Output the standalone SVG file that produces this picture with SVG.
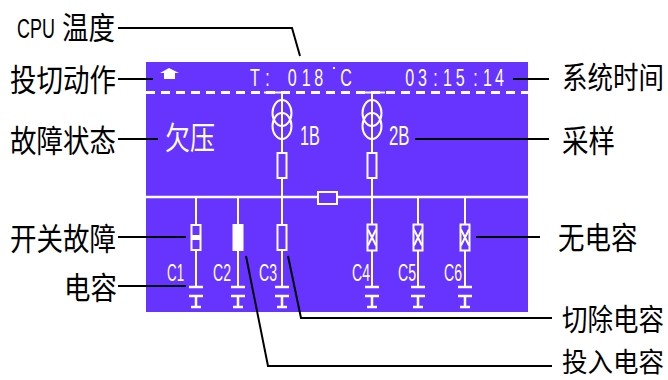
<svg xmlns="http://www.w3.org/2000/svg" width="668" height="380" viewBox="0 0 668 380">
<style>
.w{stroke:#fff;stroke-width:2;fill:none}
.p{stroke:#fff;stroke-width:2.500;fill:none}
.box{stroke:#fff;stroke-width:2;fill:#6633ff}
.wf{fill:#fff;stroke:none}
.b{stroke:#000;stroke-width:2;fill:none}
.lb{font-family:"Noto Sans CJK SC","Liberation Sans",sans-serif;fill:#000}
.t{font-family:"Liberation Sans",sans-serif;fill:#fff}
.c{font-size:23.500px}
</style>
<defs>
<g id="cap"><path class="w" d="M0 0V90"/><path class="p" d="M-7 90H7M-7 99H7M0 99V110M-5 110H5"/></g>
<g id="x"><rect class="box" x="-4.500" y="-13" width="9" height="26"/><path class="w" d="M-4-8 4 8M4-8-4 8"/></g>
</defs>
<rect id="panel" x="146" y="62" width="382" height="250" fill="#6633ff"/>
<g id="screen-top">
<path class="wf" d="M160 73 169 68 179 73H175V79H164V73Z"/>
<text class="t" font-size="23" transform="translate(0 86) scale(.7 1)" x="357 379 411 431 449">T:018</text>
<rect class="wf" x="333" y="67" width="2" height="2"/>
<text class="t" font-size="23" transform="translate(0 86) scale(.7 1)" x="486">C</text>
<text class="t" font-size="23" transform="translate(0 86) scale(.7 1)" x="579 597 619 633 651 676 690 707">03:15:14</text>
<path d="M146 92.500H528" stroke="#fff" stroke-width="3" stroke-dasharray="9 6" fill="none"/>
<text transform="translate(165 149) scale(1 1.250)" fill="#fff" font-size="25" style="font-family:'Noto Sans CJK SC',sans-serif">欠压</text>
</g>
<g id="bus"><path class="p" d="M146 197H528"/><rect class="box" x="318" y="192" width="19" height="12"/></g>
<g id="t1">
<path class="w" d="M264 92.500H288M282 92V197"/>
<ellipse class="w" cx="282" cy="113" rx="9.500" ry="13"/><ellipse class="w" cx="282" cy="126" rx="9.500" ry="13"/>
<rect class="box" x="277.500" y="153" width="9" height="25"/>
<text class="t" transform="translate(300 145) scale(.58 1)" font-size="28">1B</text>
</g>
<g id="t2">
<path class="w" d="M360 92.500H385M372 92V197"/>
<ellipse class="w" cx="372" cy="113" rx="9.500" ry="13"/><ellipse class="w" cx="372" cy="126" rx="9.500" ry="13"/>
<rect class="box" x="367.500" y="153" width="9" height="25"/>
<text class="t" transform="translate(389 145) scale(.6 1)" font-size="28">2B</text>
</g>
<g id="c1"><use href="#cap" x="196" y="197"/><rect class="box" x="191.500" y="225" width="9" height="25"/><rect class="wf" x="192" y="235" width="8" height="5"/><text class="t c" transform="translate(167 281) scale(.57 1)">C1</text></g>
<g id="c2"><use href="#cap" x="238" y="197"/><rect class="wf" x="232.500" y="224" width="11" height="27"/><text class="t c" transform="translate(213 281) scale(.6 1)">C2</text></g>
<g id="c3"><use href="#cap" x="282" y="197"/><rect class="box" x="277.500" y="225" width="9" height="25"/><text class="t c" transform="translate(259 281) scale(.6 1)">C3</text></g>
<g id="c4"><use href="#cap" x="372" y="197"/><use href="#x" x="372" y="237.500"/><text class="t c" transform="translate(352 281) scale(.6 1)">C4</text></g>
<g id="c5"><use href="#cap" x="418" y="197"/><use href="#x" x="418" y="237.500"/><text class="t c" transform="translate(398 281) scale(.6 1)">C5</text></g>
<g id="c6"><use href="#cap" x="465" y="197"/><use href="#x" x="465" y="237.500"/><text class="t c" transform="translate(444 281) scale(.6 1)">C6</text></g>
<g id="connectors">
<path class="b" d="M118 28H292L300 56"/>
<path class="b" d="M118 79H153"/>
<path class="b" d="M118 139H158"/>
<path class="b" d="M118 237H186"/>
<path class="b" d="M118 286H186"/>
<path class="b" d="M513 79H549"/>
<path class="b" d="M415 139H549"/>
<path class="b" d="M476 237H540"/>
<path class="b" d="M288 256 301 318H552"/>
<path class="b" d="M246 256 268 366H552"/>
</g>
<g id="labels">
<text transform="translate(17 38) scale(.64 1)" font-size="28" style="font-family:'Liberation Sans',sans-serif">CPU</text>
<text class="lb" transform="translate(62 39) scale(1 1.150)" font-size="26.500">温度</text>
<text class="lb" transform="translate(10 91) scale(1 1.150)" font-size="26.500">投切动作</text>
<text class="lb" transform="translate(10 152) scale(1 1.150)" font-size="26.500">故障状态</text>
<text class="lb" transform="translate(10 250) scale(1 1.150)" font-size="26.500">开关故障</text>
<text class="lb" transform="translate(64 299) scale(1 1.150)" font-size="26.500">电容</text>
<text class="lb" transform="translate(562 88) scale(1 1.150)" font-size="25.500">系统时间</text>
<text class="lb" transform="translate(562 152) scale(1 1.150)" font-size="26.500">采样</text>
<text class="lb" transform="translate(558 249) scale(1 1.150)" font-size="26.500">无电容</text>
<text class="lb" transform="translate(562 330) scale(1 1.150)" font-size="25.500">切除电容</text>
<text class="lb" transform="translate(562 372) scale(1 1.050)" font-size="25.500">投入电容</text>
</g>
</svg>
